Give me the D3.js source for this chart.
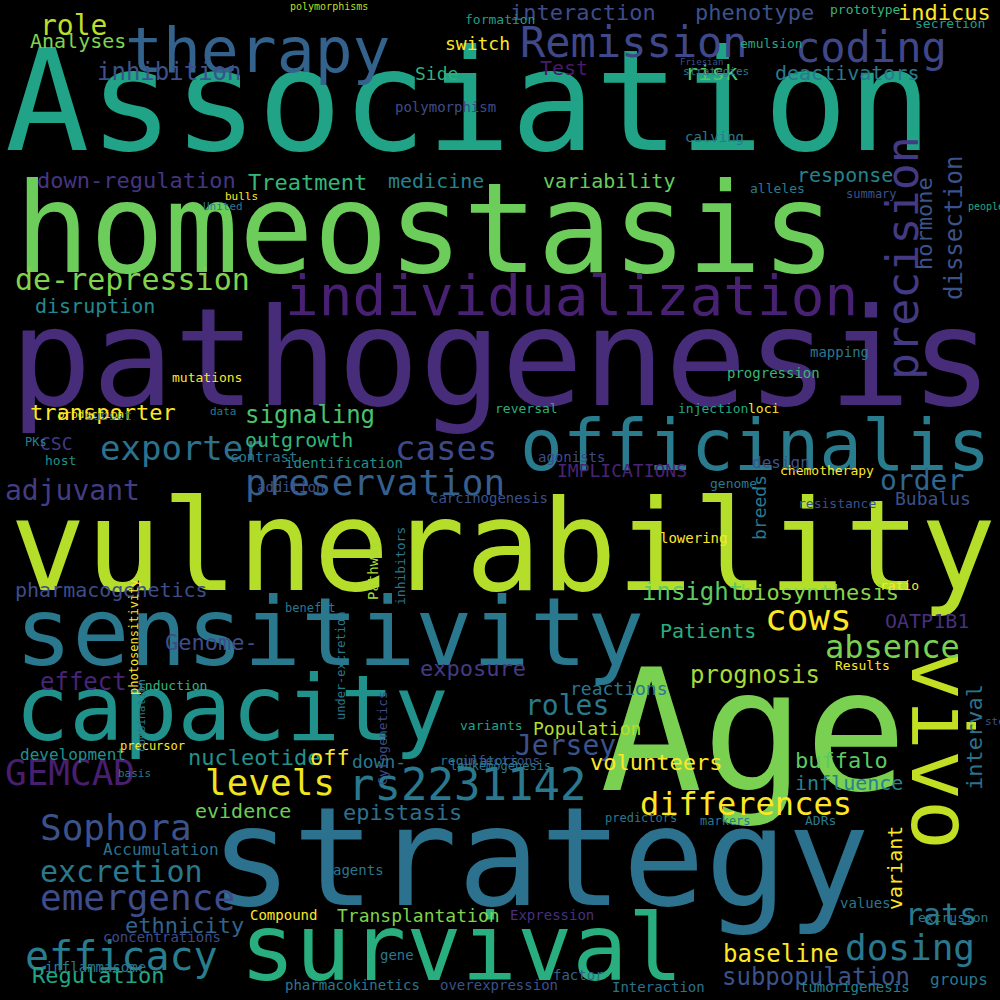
<!DOCTYPE html>
<html><head><meta charset="utf-8">
<script src="https://cdn.jsdelivr.net/npm/d3@7"></script>
<style>body{margin:0;background:#000}</style></head>
<body><svg id="c" width="1000" height="1000"></svg>
<script>
// word, font size, colour, rotation, anchor x, baseline y
const words = ["Association","therapy","homeostasis","pathogenesis","vulnerability","sensitivity","capacity","Age","strategy","survival","vivo","officinalis","individualization","precision","coding","Remission","role","Analyses","interaction","phenotype","indicus","inhibition","Side","Test","risk","deactivators","switch","down-regulation","Treatment","medicine","variability","response","hormone","dissection","de-repression","disruption","transporter","signaling","exporter","cases","outgrowth","preservation","CSC","adjuvant","IMPLICATIONS","order","Bubalus","breeds","pharmacogenetics","insight","biosynthesis","cows","absence","OATP1B1","Patients","prognosis","Genome-","exposure","effect","roles","reactions","levels","rs2231142","differences","GEMCAD","Sophora","nucleotide","off","down-","Jersey","volunteers","buffalo","influence","interval","epistasis","evidence","excretion","emergence","efficacy","ethnicity","Regulation","Transplantation","baseline","dosing","rats","subpopulation","variant","Population","Accumulation","development","Compound","agents","Expression","extrusion","values","groups","concentrations","inflammasome","pharmacokinetics","overexpression","Interaction","tumorigenesis","factor","gene","formation","emulsion","secretion","prototype","polymorphisms","calving","polymorphism","alleles","summary","mapping","progression","injection","loci","reversal","identification","agonists","carcinogenesis","genome","resistance","chemotherapy","lowering","ratio","inhibitors","Pathways","contrast","addition","mutations","subset","host","PKs","benefit","induction","Results","variants","regulators","infections","leukemogenesis","predictors","markers","ADRs","precursor","basis","combination","photosensitivity","under-excretion","stemness","Cytogenetics","strategies","Friesian","people","bulls","United","data","production","design"];
const sizes = [140,63,124,136,126,95,90,170,137,92,83,71,56,45,42,42,28,20,22,22,22,24,18,20,22,20,18,22,22,20,20,20,22,24,30,20,22,24,34,34,20,36,18,28,18,28,18,18,20,24,22,36,32,20,20,24,22,22,24,28,18,36,44,32,36,36,22,22,18,28,22,22,20,22,22,20,30,36,40,22,22,18,24,36,30,24,20,18,16,16,14,14,14,13,14,16,14,14,14,14,14,14,14,14,13,13,13,13,10,14,14,13,12,14,14,13,13,13,14,14,14,13,13,13,14,13,13,14,14,14,13,13,13,12,12,13,13,13,13,13,12,12,12,13,12,11,11,12,12,11,13,11,9,10,11,11,11,11];
const colors = ["#20a386","#33628d","#6ccd5a","#472c7a","#b5de2b","#2a788e","#21918c","#7ad151","#2c728e","#29af7f","#c2df23","#297b8e","#482173","#443a83","#3f4788","#3f4889","#bddf26","#7fd34e","#3e4c8a","#3b528b","#fde725","#3b528b","#2db27d","#481a6c","#50c46a","#2a788e","#fde725","#453581","#35b779","#25848e","#67cc5c","#26828e","#3a548c","#3b528b","#7fd34e","#238a8d","#fde725","#4ac16d","#2c728e","#3e4989","#31b57b","#355f8d","#443983","#433d84","#482475","#31668e","#3b528b","#2a788e","#3d4e8a","#5ec962","#86d549","#fde725","#7ad151","#46317e","#29af7f","#a8db34","#3e4c8a","#443a83","#482475","#2a788e","#2a768e","#f1e51d","#2a788e","#fde725","#481f70","#3b528b","#21918c","#fde725","#2a788e","#3b528b","#fde725","#5ec962","#26828e","#2c728e","#2d708e","#6ccd5a","#2a788e","#3e4c8a","#287d8e","#33638d","#21a685","#7fd34e","#fde725","#2a788e","#2a788e","#3b528b","#fde725","#b5de2b","#2c728e","#21918c","#fde725","#2a788e","#46317e","#2a788e","#2a788e","#2a788e","#3e4c8a","#2a788e","#2a788e","#3b528b","#2c728e","#26828e","#33638d","#2a788e","#1f9e89","#22a884","#1fa187","#35b779","#bddf26","#2a788e","#3e4c8a","#287d8e","#3b528b","#2a788e","#35b779","#22a884","#fde725","#29af7f","#21918c","#3e4c8a","#3b528b","#2a788e","#3b528b","#fde725","#fde725","#fde725","#2a788e","#a8db34","#2a788e","#3b528b","#fde725","#2c728e","#21918c","#26828e","#2a788e","#35b779","#fde725","#21a685","#2a788e","#3b528b","#2a788e","#2a788e","#2a788e","#2a788e","#fde725","#2a788e","#2a788e","#fde725","#2a788e","#3b528b","#3e4c8a","#2a788e","#3b528b","#22a884","#fde725","#2a788e","#2a788e","#fde725","#3b528b","#3b528b"];
const rotations = [0,0,0,0,0,0,0,0,0,0,90,0,0,-90,0,0,0,0,0,0,0,0,0,0,0,0,0,0,0,0,0,0,-90,-90,0,0,0,0,0,0,0,0,0,0,0,0,0,-90,0,0,0,0,0,0,0,0,0,0,0,0,0,0,0,0,0,0,0,0,0,0,0,0,0,-90,0,0,0,0,0,0,0,0,0,0,0,0,-90,0,0,0,0,0,0,0,0,0,0,0,0,0,0,0,0,0,0,0,0,0,0,0,0,0,0,0,0,0,0,0,0,0,0,0,0,0,0,0,-90,-90,0,0,0,0,0,0,0,0,0,0,0,0,0,0,0,0,0,0,-90,-90,-90,0,-90,0,0,0,0,0,0,0];
const xs = [5,125,15,10,10,15,15,600,210,240,912,520,285,918,795,520,40,30,510,695,898,97,415,540,685,775,445,37,248,388,543,797,932,962,15,35,30,245,100,395,245,245,40,5,557,880,895,766,15,642,740,765,825,885,660,690,165,420,40,525,570,205,348,640,5,40,188,310,352,515,590,795,795,982,343,195,40,40,25,125,32,337,723,845,905,722,902,533,103,20,250,333,510,918,840,930,103,45,285,440,612,800,553,380,465,740,915,830,290,685,395,750,846,810,727,678,748,495,285,538,430,710,798,780,660,880,405,378,230,257,172,85,45,25,285,137,835,460,440,462,450,605,700,805,120,118,145,138,345,985,387,683,680,968,225,203,210,58,752,810,830];
const ys = [150,72,272,405,590,665,740,790,905,980,650,470,315,380,62,57,35,48,20,20,20,80,80,75,80,80,50,188,190,188,188,182,270,300,290,313,420,423,460,460,447,495,450,500,477,490,505,540,597,600,600,630,658,628,638,683,650,676,690,715,695,795,800,815,785,840,765,765,768,755,770,768,790,790,820,818,882,910,970,933,983,922,962,960,925,985,910,735,855,760,920,875,920,922,908,985,942,972,990,990,992,992,980,960,24,48,28,14,10,142,112,193,198,357,378,413,413,413,468,462,503,488,508,475,543,590,605,600,462,492,382,420,465,446,612,690,670,730,765,765,770,822,825,825,750,777,752,695,720,725,785,75,65,210,200,210,415,418,468,545,415,557,395];

const svg = d3.select("#c");
svg.append("rect").attr("width",1000).attr("height",1000).attr("fill","#000");
const fontScale = d3.scaleLinear().domain([0,1]).range([0,1]);
svg.selectAll("text.w").data(words.map((w,i)=>({w,s:sizes[i],c:colors[i]||"#2a788e",r:rotations[i]||0,x:xs[i],y:ys[i]})))
  .join("text").attr("class","w")
  .attr("font-family","'DejaVu Sans Mono', monospace")
  .attr("font-size",d=>fontScale(d.s))
  .attr("fill",d=>d.c)
  .attr("transform",d=>`translate(${d.x},${d.y}) rotate(${d.r})`)
  .text(d=>d.w);
</script></body></html>
